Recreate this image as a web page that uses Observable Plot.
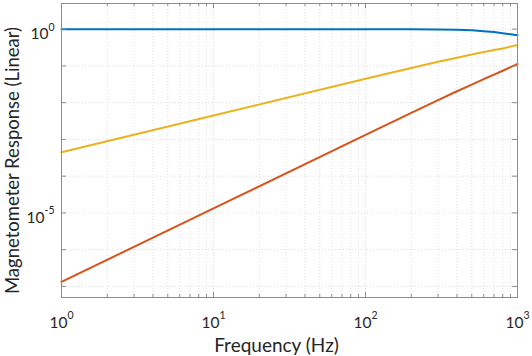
<!DOCTYPE html>
<html><head><meta charset="utf-8">
<script src="https://cdn.jsdelivr.net/npm/d3@7"></script>
<script src="https://cdn.jsdelivr.net/npm/@observablehq/plot@0.6"></script>
<style>
html,body{margin:0;padding:0;background:#fff;}
</style></head><body><div id="chart"></div>
<script>
// Frequency sample points (Hz)
const freq = [1, 10, 100, 200, 300, 400, 500, 600, 700, 800, 900, 1000];
const blueResp   = [1.0, 1.0, 0.998, 0.99, 0.98, 0.96, 0.93, 0.88, 0.84, 0.78, 0.73, 0.68];
const yellowResp = [4.5e-4, 4.5e-3, 0.0448, 0.088, 0.13, 0.168, 0.205, 0.24, 0.27, 0.30, 0.335, 0.37];
const redResp    = [1.33e-7, 1.33e-5, 1.33e-3, 5.3e-3, 0.0118, 0.0205, 0.031, 0.044, 0.058, 0.074, 0.093, 0.113];

const seriesColors = ["#0072BD", "#EDB120", "#D95319"];

const xMajor = [1, 10, 100, 1000];
const xMinor = [2,3,4,5,6,7,8,9,20,30,40,50,60,70,80,90,200,300,400,500,600,700,800,900];
const yDecades = [1e-7, 1e-6, 1e-5, 1e-4, 1e-3, 1e-2, 1e-1, 1];
const yLabeled = [1e-5, 1];

const xTitle = "Frequency (Hz)";
const yTitle = "Magnetometer Response (Linear)";

const W = 532, H = 356, mL = 61, mR = 15, mT = 3, mB = 59;
const pw = W - mL - mR, ph = H - mT - mB;
const axisColor = "#8c8c8c";
const gridColor = "#dedede";
const textColor = "#262626";

const pairs = (vals) => freq.map((f, i) => [f, vals[i]]);
const expFmt = d => "10^" + Math.round(Math.log10(d));

const chart = Plot.plot({
  width: W, height: H,
  marginLeft: mL, marginRight: mR, marginTop: mT, marginBottom: mB,
  style: {fontFamily: "Lato, sans-serif", fontSize: "15px", color: textColor, background: "#fff", overflow: "visible"},
  x: {type: "log", domain: [1, 1000]},
  y: {type: "log", domain: [5e-8, 5]},
  marks: [
    Plot.ruleX(xMajor.concat(xMinor), {stroke: gridColor, strokeDasharray: "1,2", strokeWidth: 1}),
    Plot.ruleY(yDecades, {stroke: gridColor, strokeDasharray: "1,2", strokeWidth: 1}),
    Plot.line(pairs(yellowResp), {stroke: seriesColors[1], strokeWidth: 2}),
    Plot.line(pairs(redResp), {stroke: seriesColors[2], strokeWidth: 2}),
    Plot.line(pairs(blueResp), {stroke: seriesColors[0], strokeWidth: 2}),
    Plot.frame({stroke: axisColor, strokeWidth: 1}),
    Plot.ruleX(xMajor, {insetTop: ph - 5, stroke: axisColor}),
    Plot.ruleX(xMinor, {insetTop: ph - 3, stroke: axisColor}),
    Plot.ruleX(xMajor, {insetBottom: ph - 5, stroke: axisColor}),
    Plot.ruleX(xMinor, {insetBottom: ph - 3, stroke: axisColor}),
    Plot.ruleY(yDecades, {insetRight: pw - 5, stroke: axisColor}),
    Plot.ruleY(yDecades, {insetLeft: pw - 5, stroke: axisColor}),
    Plot.axisX(xMajor, {tickSize: 0, tickPadding: 19, fontSize: 15.5, tickFormat: expFmt, label: null, fill: textColor}),
    Plot.axisY(yLabeled, {tickSize: 0, tickPadding: 7, dy: 5, fontSize: 15.5, tickFormat: expFmt, label: null, fill: textColor}),
    Plot.text([xTitle], {frameAnchor: "bottom", lineAnchor: "bottom", dy: 54, dx: -13, fontSize: 19, fill: textColor}),
    Plot.text([yTitle], {frameAnchor: "left", textAnchor: "middle", lineAnchor: "bottom", rotate: -90, dx: -43, dy: 10, fontSize: 18.5, fill: textColor})
  ]
});

// Render "10^k" tick labels with a raised exponent
d3.select(chart).selectAll("text").each(function() {
  const t = this.textContent;
  const m = /^10\^(-?\d+)$/.exec(t);
  if (!m) return;
  const sel = d3.select(this);
  sel.text("10");
  sel.append("tspan").attr("dy", -8.5).attr("font-size", 10.5).text(m[1]);
});

document.getElementById("chart").appendChild(chart);
</script>
</body></html>
